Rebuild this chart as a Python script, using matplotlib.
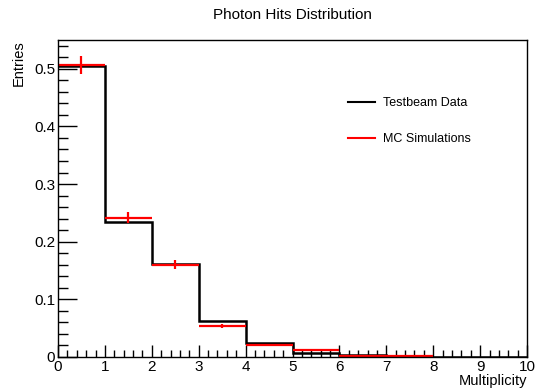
import numpy as np
import matplotlib.pyplot as plt
from matplotlib.lines import Line2D
from matplotlib.ticker import MultipleLocator

plt.rcParams['font.family'] = ['Liberation Sans', 'DejaVu Sans']

# bin edges for multiplicity
edges = np.arange(0, 11)
# testbeam data (black histogram)
data_vals = [0.504, 0.234, 0.161, 0.0625, 0.024, 0.0075, 0.003, 0.0008, 0.0, 0.0]
# MC simulation (red points with errors)
mc_vals = [0.507, 0.242, 0.160, 0.054, 0.021, 0.012, 0.002, 0.0012, 0.0, 0.0]
mc_errs = [0.016, 0.010, 0.008, 0.004, 0.002, 0.001, 0.0005, 0.0003, 0.0, 0.0]

fig = plt.figure(figsize=(5.38, 3.92), dpi=100)
ax = fig.add_axes([0.1078, 0.0893, 0.8718, 0.8087])

ax.stairs(data_vals, edges, color='black', linewidth=1.8, baseline=None)

centers = edges[:-1] + 0.5
mask = np.array(mc_vals) > 0
ax.errorbar(centers[mask], np.array(mc_vals)[mask], xerr=0.5,
            yerr=np.array(mc_errs)[mask], fmt='none', ecolor='red',
            elinewidth=1.6, capsize=0)

ax.set_xlim(0, 10)
ax.set_ylim(0, 0.55)
ax.xaxis.set_major_locator(MultipleLocator(1))
ax.xaxis.set_minor_locator(MultipleLocator(0.2))
ax.yaxis.set_major_locator(MultipleLocator(0.1))
ax.yaxis.set_minor_locator(MultipleLocator(0.02))
ax.set_yticks([0, 0.1, 0.2, 0.3, 0.4, 0.5])
ax.set_yticklabels(['0', '0.1', '0.2', '0.3', '0.4', '0.5'])
ax.tick_params(axis='both', which='both', direction='in', labelsize=11,
               top=False, right=False, width=1)
ax.tick_params(axis='x', which='major', length=9, pad=2)
ax.tick_params(axis='x', which='minor', length=5)
ax.tick_params(axis='y', which='major', length=14, pad=2)
ax.tick_params(axis='y', which='minor', length=7)
for s in ax.spines.values():
    s.set_linewidth(1)

ax.set_title('Photon Hits Distribution', fontsize=11, pad=15)
ax.set_xlabel('Multiplicity', fontsize=10.5, loc='right', labelpad=0)
ax.set_ylabel('Entries', fontsize=10.5, loc='top', labelpad=6)

handles = [Line2D([], [], color='black', linewidth=1.5),
           Line2D([], [], color='red', linewidth=1.5)]
ax.legend(handles, ['Testbeam Data', 'MC Simulations'], frameon=False,
          loc='upper left', bbox_to_anchor=(0.618, 0.82), fontsize=9,
          handlelength=2.16, labelspacing=1.92, handletextpad=0.64,
          borderpad=0, borderaxespad=0)

fig.savefig('out.png', dpi=100)
